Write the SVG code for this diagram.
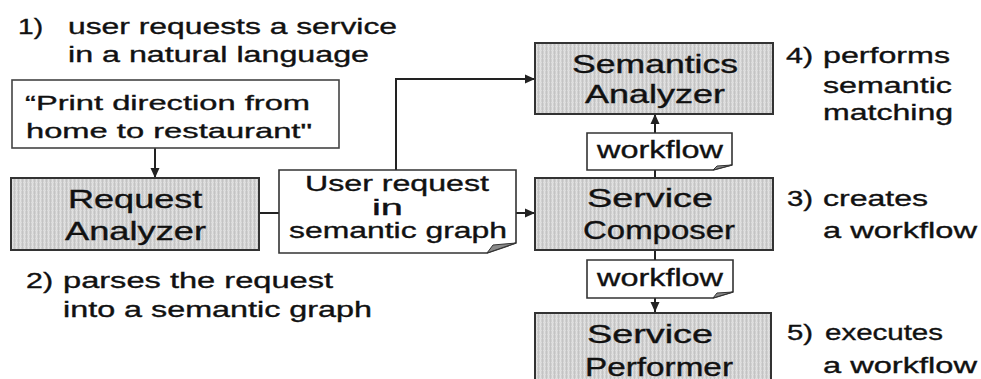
<svg xmlns="http://www.w3.org/2000/svg" width="981" height="379" viewBox="0 0 981 379">
<style>
text{font-family:"Liberation Sans",Arial,sans-serif;fill:#111;stroke:#111;stroke-width:0.35}
.ann{font-size:22px}
.box{font-size:25px}
.pr{font-size:20.5px}
.ur{font-size:22px}
.wf{font-size:23px}
.gray{fill:url(#hatch);stroke:#333;stroke-width:2}
.doc{fill:#fff;stroke:#333;stroke-width:1.6}
.fold{fill:#8a8a8a;stroke:#333;stroke-width:1}
.con{fill:none;stroke:#222;stroke-width:2}
</style>
<defs>
<pattern id="hatch" width="4" height="4" patternUnits="userSpaceOnUse">
<rect width="4" height="4" fill="#d0d0d0"/>
<rect x="0" y="0" width="1" height="4" fill="#e2e2e2"/>
<rect x="0" y="2" width="4" height="1" fill="#dcdcdc"/>
<rect x="2" y="0" width="1" height="4" fill="#c4c4c4"/>
</pattern>
<marker id="arr" markerUnits="userSpaceOnUse" markerWidth="10" markerHeight="10" refX="10" refY="5" orient="auto">
<path d="M0,0.5 L10,5 L0,9.5 z" fill="#222"/>
</marker>
</defs>
<rect width="981" height="379" fill="#fff"/>

<g id="connectors">
<path class="con" d="M155,148 V178" marker-end="url(#arr)"/>
<path class="con" d="M259,213 H279"/>
<path class="con" d="M516,213 H535" marker-end="url(#arr)"/>
<path class="con" d="M396,170 V79 H535" marker-end="url(#arr)"/>
<path class="con" d="M655,133 V114" marker-end="url(#arr)"/>
<path class="con" d="M655,170 V178"/>
<path class="con" d="M655,250 V260"/>
<path class="con" d="M655,298 V312" marker-end="url(#arr)"/>
</g>

<g id="label-1">
<text class="ann" transform="translate(18,34) scale(1.4,1)" textLength="17.9" lengthAdjust="spacingAndGlyphs">1)</text>
<text class="ann" transform="translate(68,34) scale(1.4,1)" textLength="235" lengthAdjust="spacingAndGlyphs">user requests a service</text>
<text class="ann" transform="translate(68,62) scale(1.4,1)" textLength="215" lengthAdjust="spacingAndGlyphs">in a natural language</text>
</g>

<g id="print-request">
<rect x="12" y="80" width="327" height="68" fill="#fff" stroke="#444" stroke-width="1.6"/>
<text class="pr" transform="translate(25,110) scale(1.4,1)" textLength="203.6" lengthAdjust="spacingAndGlyphs">“Print direction from</text>
<text class="pr" transform="translate(26,138) scale(1.4,1)" textLength="204.3" lengthAdjust="spacingAndGlyphs">home to restaurant"</text>
</g>

<g id="request-analyzer">
<rect class="gray" x="11" y="178" width="248" height="72"/>
<text class="box" transform="translate(68,208) scale(1.4,1)" textLength="96" lengthAdjust="spacingAndGlyphs">Request</text>
<text class="box" transform="translate(65,240) scale(1.4,1)" textLength="100.7" lengthAdjust="spacingAndGlyphs">Analyzer</text>
</g>

<g id="user-request">
<path class="doc" d="M279,170 H516 V243 L487,253 H279 Z"/>
<path class="fold" d="M487,253 L493,245 L516,243 Z"/>
<text class="ur" transform="translate(305,191) scale(1.4,1)" textLength="131.4" lengthAdjust="spacingAndGlyphs">User request</text>
<text class="ur" transform="translate(372,215) scale(1.4,1)" textLength="22.1" lengthAdjust="spacingAndGlyphs">in</text>
<text class="ur" transform="translate(289,238) scale(1.4,1)" textLength="155.7" lengthAdjust="spacingAndGlyphs">semantic graph</text>
</g>

<g id="label-2">
<text class="ann" transform="translate(26,288) scale(1.4,1)" textLength="19.3" lengthAdjust="spacingAndGlyphs">2)</text>
<text class="ann" transform="translate(63,288) scale(1.4,1)" textLength="192.9" lengthAdjust="spacingAndGlyphs">parses the request</text>
<text class="ann" transform="translate(63,317) scale(1.4,1)" textLength="220.7" lengthAdjust="spacingAndGlyphs">into a semantic graph</text>
</g>

<g id="semantics-analyzer">
<rect class="gray" x="535" y="43" width="238" height="71"/>
<text class="box" transform="translate(572,73) scale(1.4,1)" textLength="118.6" lengthAdjust="spacingAndGlyphs">Semantics</text>
<text class="box" transform="translate(585,103) scale(1.4,1)" textLength="100" lengthAdjust="spacingAndGlyphs">Analyzer</text>
</g>

<g id="workflow-1">
<path class="doc" d="M587,133 H732 V165 L713,170 H587 Z"/>
<path class="fold" d="M713,170 L717,166 L732,165 Z"/>
<text class="wf" transform="translate(597,158) scale(1.4,1)" textLength="90" lengthAdjust="spacingAndGlyphs">workflow</text>
</g>

<g id="service-composer">
<rect class="gray" x="535" y="178" width="238" height="72"/>
<text class="box" transform="translate(587,207) scale(1.4,1)" textLength="90" lengthAdjust="spacingAndGlyphs">Service</text>
<text class="box" transform="translate(583,239) scale(1.4,1)" textLength="108.6" lengthAdjust="spacingAndGlyphs">Composer</text>
</g>

<g id="workflow-2">
<path class="doc" d="M587,260 H733 V292 L713,298 H587 Z"/>
<path class="fold" d="M713,298 L717,293 L733,292 Z"/>
<text class="wf" transform="translate(597,286) scale(1.4,1)" textLength="90" lengthAdjust="spacingAndGlyphs">workflow</text>
</g>

<g id="service-performer">
<rect class="gray" x="535" y="313" width="236" height="80"/>
<text class="box" transform="translate(587,343) scale(1.4,1)" textLength="90" lengthAdjust="spacingAndGlyphs">Service</text>
<text class="box" transform="translate(585,376) scale(1.4,1)" textLength="105.7" lengthAdjust="spacingAndGlyphs">Performer</text>
</g>

<g id="label-4">
<text class="ann" transform="translate(786,63) scale(1.4,1)" textLength="19.3" lengthAdjust="spacingAndGlyphs">4)</text>
<text class="ann" transform="translate(823,63) scale(1.4,1)" textLength="90.7" lengthAdjust="spacingAndGlyphs">performs</text>
<text class="ann" transform="translate(823,93) scale(1.4,1)" textLength="92.1" lengthAdjust="spacingAndGlyphs">semantic</text>
<text class="ann" transform="translate(823,120) scale(1.4,1)" textLength="92.9" lengthAdjust="spacingAndGlyphs">matching</text>
</g>

<g id="label-3">
<text class="ann" transform="translate(787,206) scale(1.4,1)" textLength="18.6" lengthAdjust="spacingAndGlyphs">3)</text>
<text class="ann" transform="translate(823,206) scale(1.4,1)" textLength="75" lengthAdjust="spacingAndGlyphs">creates</text>
<text class="ann" transform="translate(823,238) scale(1.4,1)" textLength="110" lengthAdjust="spacingAndGlyphs">a workflow</text>
</g>

<g id="label-5">
<text class="ann" transform="translate(787,340) scale(1.4,1)" textLength="18.6" lengthAdjust="spacingAndGlyphs">5)</text>
<text class="ann" transform="translate(825,340) scale(1.4,1)" textLength="84.3" lengthAdjust="spacingAndGlyphs">executes</text>
<text class="ann" transform="translate(823,373) scale(1.4,1)" textLength="110" lengthAdjust="spacingAndGlyphs">a workflow</text>
</g>
</svg>
